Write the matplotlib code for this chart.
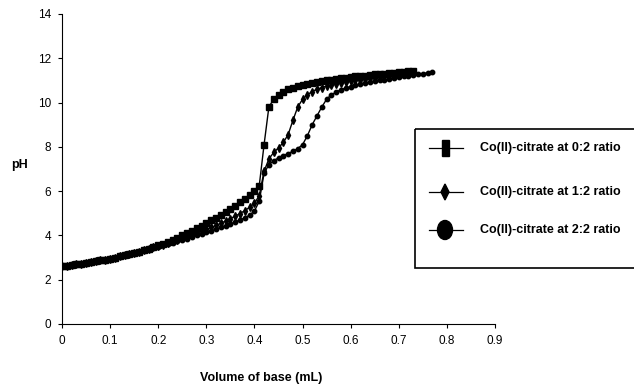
import numpy as np
import matplotlib
matplotlib.use("Agg")
import matplotlib.pyplot as plt
from matplotlib.patches import Rectangle, Ellipse, Polygon

plt.rcParams["font.family"] = ["Liberation Sans", "DejaVu Sans"]

# volume of base (mL), one reading every 0.01 mL
vol_sq = np.round(np.arange(0, 0.735, 0.01), 2)
vol_di = np.round(np.arange(0, 0.735, 0.01), 2)
vol_ci = np.round(np.arange(0, 0.775, 0.01), 2)

low_ph = [2.60, 2.63, 2.66, 2.69, 2.72, 2.75, 2.79, 2.83, 2.87, 2.91,
          2.95, 3.00, 3.05, 3.10, 3.15, 3.21, 3.27, 3.33, 3.40, 3.47]

ph_0_2 = low_ph + [
    3.55, 3.63, 3.72, 3.81, 3.90, 4.00, 4.10, 4.20, 4.32, 4.44,
    4.56, 4.68, 4.80, 4.93, 5.06, 5.20, 5.35, 5.50, 5.65, 5.82,
    6.00, 6.25, 8.10, 9.80, 10.15, 10.35, 10.50, 10.60, 10.68, 10.75,
    10.81, 10.86, 10.90, 10.94, 10.98, 11.01, 11.04, 11.07, 11.10, 11.13,
    11.15, 11.18, 11.20, 11.22, 11.25, 11.27, 11.29, 11.31, 11.33, 11.35,
    11.37, 11.39, 11.41, 11.43]

ph_1_2 = low_ph + [
    3.52, 3.59, 3.66, 3.73, 3.80, 3.87, 3.94, 4.02, 4.10, 4.18,
    4.27, 4.36, 4.45, 4.55, 4.65, 4.76, 4.87, 4.99, 5.12, 5.27,
    5.45, 5.80, 6.90, 7.45, 7.75, 7.95, 8.20, 8.55, 9.20, 9.80,
    10.15, 10.35, 10.50, 10.60, 10.68, 10.74, 10.80, 10.85, 10.89, 10.93,
    10.97, 11.00, 11.03, 11.06, 11.09, 11.12, 11.15, 11.18, 11.21, 11.24,
    11.27, 11.30, 11.33, 11.36]

ph_2_2 = low_ph + [
    3.50, 3.56, 3.62, 3.68, 3.74, 3.80, 3.86, 3.93, 4.00, 4.07,
    4.14, 4.21, 4.28, 4.36, 4.44, 4.52, 4.61, 4.70, 4.80, 4.92,
    5.10, 5.55, 6.80, 7.20, 7.38, 7.50, 7.60, 7.70, 7.80, 7.92,
    8.10, 8.50, 9.00, 9.40, 9.80, 10.15, 10.35, 10.48, 10.58, 10.66,
    10.72, 10.78, 10.83, 10.88, 10.92, 10.96, 11.00, 11.03, 11.06, 11.10,
    11.14, 11.18, 11.21, 11.24, 11.27, 11.31, 11.34, 11.38]

labels = ["Co(II)-citrate at 0:2 ratio",
          "Co(II)-citrate at 1:2 ratio",
          "Co(II)-citrate at 2:2 ratio"]

W, H = 634, 388
fig = plt.figure(figsize=(W / 100, H / 100), dpi=100)
ax = fig.add_axes([62 / W, 1 - 324 / H, (495 - 62) / W, (324 - 14) / H])

ax.plot(vol_sq, ph_0_2, color="black", lw=1.0, marker="s", ms=3.8)
ax.plot(vol_di, ph_1_2, color="black", lw=1.0, marker="d", ms=3.8)
ax.plot(vol_ci, ph_2_2, color="black", lw=1.0, marker="o", ms=3.2)

ax.set_xlim(0, 0.9)
ax.set_ylim(0, 14)
ax.set_xticks(np.arange(0, 0.91, 0.1))
ax.set_xticklabels(["0", "0.1", "0.2", "0.3", "0.4", "0.5", "0.6", "0.7", "0.8", "0.9"])
ax.set_yticks(range(0, 15, 2))
ax.spines["top"].set_visible(False)
ax.spines["right"].set_visible(False)
ax.tick_params(direction="out", length=3, width=0.8, labelsize=8.5, pad=5)
ax.set_xlabel("Volume of base (mL)", fontsize=9, fontweight="bold")
ax.xaxis.set_label_coords((261 - 62) / (495 - 62), -(372 - 324) / (324 - 14))
ax.set_ylabel("pH", fontsize=9, fontweight="bold", rotation=0, va="center", ha="center")
ax.yaxis.set_label_coords(-(62 - 20) / (495 - 62), (324 - 165) / (324 - 14))

# hand-drawn legend box, clipped at the right edge of the figure
ov = fig.add_axes([0, 0, 1, 1])
ov.set_xlim(0, W)
ov.set_ylim(H, 0)
ov.axis("off")
ov.add_patch(Rectangle((415, 129), 240, 139, fill=False, lw=1.2, ec="black"))
rows = [148, 192, 230]
for i, y in enumerate(rows):
    ov.plot([429, 463], [y, y], color="black", lw=0.9)
    if i == 0:
        ov.add_patch(Rectangle((441.5, y - 8), 7, 16, color="black"))
    elif i == 1:
        ov.add_patch(Polygon([(445, y - 8), (449, y), (445, y + 8), (441, y)], color="black"))
    else:
        ov.add_patch(Ellipse((445, y), 15, 19, color="black"))
    ov.text(480, y, labels[i], fontsize=9, fontweight="bold", va="center", ha="left")

fig.savefig("out.png", dpi=100)
